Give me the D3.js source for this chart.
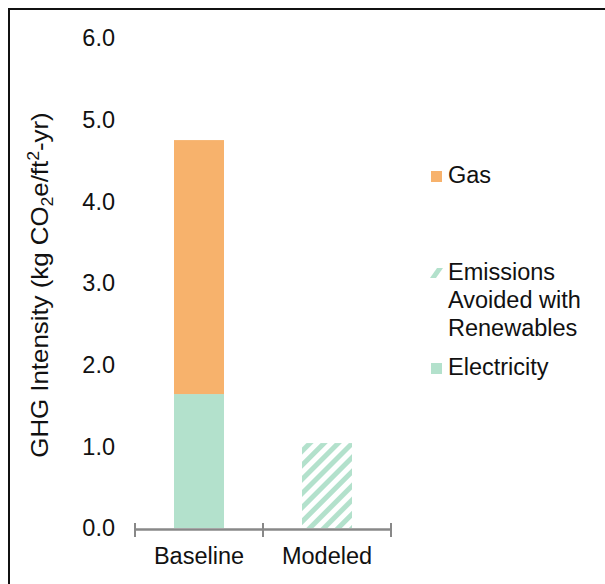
<!DOCTYPE html>
<html>
<head>
<meta charset="utf-8">
<script src="https://cdn.jsdelivr.net/npm/d3@7/dist/d3.min.js"></script>
<style>
  html, body { margin: 0; padding: 0; background: #fff; }
  svg { display: block; font-family: "Liberation Sans", Arial, sans-serif; }
</style>
</head>
<body>
<svg id="chart" width="605" height="584"></svg>
<script>
const categories = ["Baseline", "Modeled"];
const electricity = [1.64, 0];
const gas = [3.11, 0];
const avoided = [0, 1.04];
const yTicks = [0, 1, 2, 3, 4, 5, 6];
const seriesKeys = ["electricity", "gas", "avoided"];
const legendLabels = {
  gas: ["Gas"],
  avoided: ["Emissions", "Avoided with", "Renewables"],
  electricity: ["Electricity"]
};
const colors = { electricity: "#b3e1cc", gas: "#f7b26c", avoided: "url(#hatch)" };

const rows = categories.map((c, i) => ({
  category: c, electricity: electricity[i], gas: gas[i], avoided: avoided[i]
}));

const FS = 23.5;
const svg = d3.select("#chart");
const defs = svg.append("defs");
const pat = defs.append("pattern")
  .attr("id", "hatch").attr("patternUnits", "userSpaceOnUse")
  .attr("width", 10).attr("height", 10)
  .attr("patternTransform", "rotate(45)");
pat.append("rect").attr("width", 10).attr("height", 10).attr("fill", "#fff");
pat.append("rect").attr("x", 0).attr("y", 0).attr("width", 5).attr("height", 10).attr("fill", "#b3e1cc");

// frame
svg.append("path").attr("d", "M9,584 L9,9 L605,9")
  .attr("fill", "none").attr("stroke", "#111").attr("stroke-width", 2);

const y = d3.scaleLinear().domain([0, 6]).range([528, 38]);
const x = d3.scaleBand().domain(categories).range([135, 391]).paddingInner(0).paddingOuter(0);
const barW = 50;

const stack = d3.stack().keys(seriesKeys);
const stacked = stack(rows);

svg.append("g").selectAll("g").data(stacked).join("g")
  .attr("fill", d => colors[d.key])
  .selectAll("rect").data(d => d).join("rect")
  .attr("x", d => x(d.data.category) + x.bandwidth() / 2 - barW / 2)
  .attr("width", barW)
  .attr("y", d => y(d[1]))
  .attr("height", d => y(d[0]) - y(d[1]));

// y tick labels (no axis line)
svg.append("g").selectAll("text").data(yTicks).join("text")
  .attr("x", 115).attr("y", d => y(d))
  .attr("dy", "0.36em")
  .attr("text-anchor", "end")
  .attr("font-size", FS).attr("fill", "#111")
  .text(d => d3.format(".1f")(d));

// x axis
const xAxis = d3.axisBottom(x).tickSize(0).tickFormat(d => d);
const gx = svg.append("g").attr("transform", "translate(0,529)").call(xAxis);
gx.select(".domain").attr("stroke", "#888").attr("stroke-width", 2.5);
gx.selectAll(".tick text").attr("font-size", FS).attr("fill", "#111")
  .attr("font-family", "Liberation Sans, Arial, sans-serif")
  .attr("y", 0).attr("dy", "1.48em");
gx.selectAll(".tick line").remove();
const edges = [x.range()[0], ...categories.slice(1).map(c => x(c)), x.range()[1]];
gx.selectAll(".edge").data(edges).join("line").attr("class", "edge")
  .attr("x1", d => d).attr("x2", d => d).attr("y1", -6).attr("y2", 8)
  .attr("stroke", "#888").attr("stroke-width", 2);

// y axis title
const title = svg.append("text")
  .attr("transform", "translate(48,285) rotate(-90) scale(1.1,1)")
  .attr("text-anchor", "middle").attr("font-size", FS).attr("fill", "#111");
title.append("tspan").text("GHG Intensity (kg CO");
title.append("tspan").attr("font-size", 16).attr("dy", 5).text("2");
title.append("tspan").attr("dy", -5).text("e/ft");
title.append("tspan").attr("font-size", 16).attr("dy", -9).text("2");
title.append("tspan").attr("dy", 9).text("-yr)");

// legend
const legendItems = [
  { key: "gas", y: 183 },
  { key: "avoided", y: 280 },
  { key: "electricity", y: 375 }
];
const lg = svg.append("g");
legendItems.forEach(it => {
  const g = lg.append("g");
  if (it.key === "avoided") {
    g.append("path").attr("d", `M430,${it.y - 2} L437,${it.y - 12} L443,${it.y - 12} L436,${it.y - 2} Z`)
      .attr("fill", "#b3e1cc");
  } else {
    g.append("rect").attr("x", 431).attr("y", it.y - 12).attr("width", 11).attr("height", 11)
      .attr("fill", colors[it.key]);
  }
  const t = g.append("text").attr("x", 448).attr("y", it.y).attr("font-size", FS).attr("fill", "#111");
  legendLabels[it.key].forEach((line, i) => {
    t.append("tspan").attr("x", 448).attr("dy", i === 0 ? 0 : 28).text(line);
  });
});
</script>
</body>
</html>
